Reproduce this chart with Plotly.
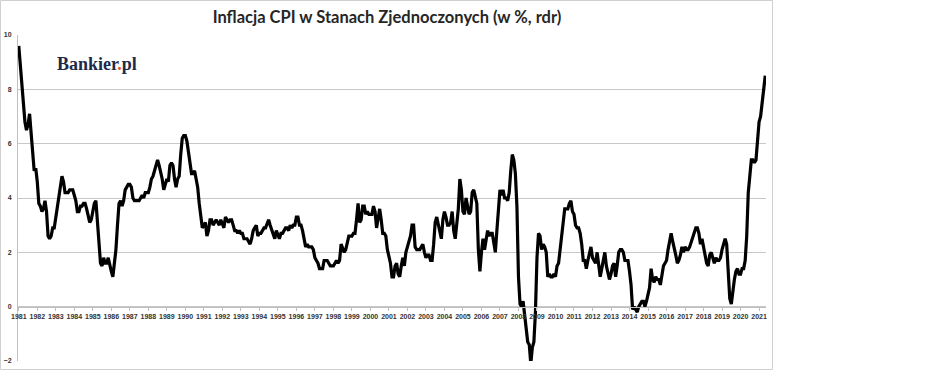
import plotly.graph_objects as go

# Monthly CPI y/y (%) from Nov 1981 to Mar 2022
cpi_1981 = [9.6, 8.9]
cpi_yearly = {
    1982: [8.4, 7.6, 6.8, 6.5, 6.7, 7.1, 6.4, 5.9, 5.0, 5.1, 4.6, 3.8],
    1983: [3.7, 3.5, 3.6, 3.9, 3.5, 2.6, 2.5, 2.6, 2.9, 2.9, 3.3, 3.8],
    1984: [4.2, 4.6, 4.8, 4.6, 4.2, 4.2, 4.2, 4.3, 4.3, 4.3, 4.1, 3.9],
    1985: [3.5, 3.5, 3.7, 3.7, 3.8, 3.8, 3.6, 3.3, 3.1, 3.2, 3.5, 3.8],
    1986: [3.9, 3.1, 2.2, 1.6, 1.5, 1.8, 1.6, 1.6, 1.8, 1.5, 1.3, 1.1],
    1987: [1.5, 2.1, 3.0, 3.8, 3.9, 3.7, 3.9, 4.3, 4.4, 4.5, 4.5, 4.4],
    1988: [4.0, 3.9, 3.9, 3.9, 3.9, 4.0, 4.1, 4.0, 4.2, 4.2, 4.2, 4.4],
    1989: [4.7, 4.8, 5.0, 5.1, 5.4, 5.2, 5.0, 4.7, 4.3, 4.5, 4.7, 4.6],
    1990: [5.2, 5.3, 5.2, 4.7, 4.4, 4.7, 4.8, 5.6, 6.2, 6.3, 6.3, 6.1],
    1991: [5.7, 5.3, 4.9, 4.9, 5.0, 4.7, 4.4, 3.8, 3.4, 2.9, 3.0, 3.1],
    1992: [2.6, 2.8, 3.2, 3.2, 3.0, 3.1, 3.2, 3.1, 3.0, 3.2, 3.0, 2.9],
    1993: [3.3, 3.2, 3.1, 3.2, 3.2, 3.0, 2.8, 2.8, 2.7, 2.8, 2.7, 2.7],
    1994: [2.5, 2.5, 2.5, 2.4, 2.3, 2.5, 2.8, 2.9, 3.0, 2.6, 2.7, 2.7],
    1995: [2.8, 2.9, 2.9, 3.1, 3.2, 3.0, 2.8, 2.6, 2.5, 2.8, 2.6, 2.5],
    1996: [2.7, 2.7, 2.8, 2.9, 2.9, 2.8, 3.0, 2.9, 3.0, 3.0, 3.3, 3.3],
    1997: [3.0, 3.0, 2.8, 2.5, 2.2, 2.3, 2.2, 2.2, 2.2, 2.1, 1.8, 1.7],
    1998: [1.6, 1.4, 1.4, 1.4, 1.7, 1.7, 1.7, 1.6, 1.5, 1.5, 1.5, 1.6],
    1999: [1.7, 1.6, 1.7, 2.3, 2.1, 2.0, 2.1, 2.3, 2.6, 2.6, 2.6, 2.7],
    2000: [2.7, 3.2, 3.8, 3.1, 3.2, 3.7, 3.7, 3.4, 3.5, 3.4, 3.4, 3.4],
    2001: [3.7, 3.5, 2.9, 3.3, 3.6, 3.2, 2.7, 2.7, 2.6, 2.1, 1.9, 1.6],
    2002: [1.1, 1.1, 1.5, 1.6, 1.2, 1.1, 1.5, 1.8, 1.5, 2.0, 2.2, 2.4],
    2003: [2.6, 3.0, 3.0, 2.2, 2.1, 2.1, 2.1, 2.2, 2.3, 2.0, 1.8, 1.9],
    2004: [1.9, 1.7, 1.7, 2.3, 3.1, 3.3, 3.0, 2.7, 2.5, 3.2, 3.5, 3.3],
    2005: [3.0, 3.0, 3.1, 3.5, 2.8, 2.5, 3.2, 3.6, 4.7, 4.3, 3.5, 3.4],
    2006: [4.0, 3.6, 3.4, 3.5, 4.2, 4.3, 4.1, 3.8, 2.1, 1.3, 2.0, 2.5],
    2007: [2.1, 2.4, 2.8, 2.6, 2.7, 2.7, 2.4, 2.0, 2.8, 3.5, 4.3, 4.1],
    2008: [4.3, 4.0, 4.0, 3.9, 4.2, 5.0, 5.6, 5.4, 4.9, 3.7, 1.1, 0.1],
    2009: [0.0, 0.2, -0.4, -0.7, -1.3, -1.4, -2.1, -1.5, -1.3, -0.2, 1.8, 2.7],
    2010: [2.6, 2.1, 2.3, 2.2, 2.0, 1.1, 1.2, 1.1, 1.1, 1.2, 1.1, 1.5],
    2011: [1.6, 2.1, 2.7, 3.2, 3.6, 3.6, 3.6, 3.8, 3.9, 3.5, 3.4, 3.0],
    2012: [2.9, 2.9, 2.7, 2.3, 1.7, 1.7, 1.4, 1.7, 2.0, 2.2, 1.8, 1.7],
    2013: [1.6, 2.0, 1.5, 1.1, 1.4, 1.8, 2.0, 1.5, 1.2, 1.0, 1.2, 1.5],
    2014: [1.6, 1.1, 1.5, 2.0, 2.1, 2.1, 2.0, 1.7, 1.7, 1.7, 1.3, 0.8],
    2015: [-0.1, 0.0, -0.1, -0.2, 0.0, 0.1, 0.2, 0.2, 0.0, 0.2, 0.5, 0.7],
    2016: [1.4, 1.0, 0.9, 1.1, 1.0, 1.0, 0.8, 1.1, 1.5, 1.6, 1.7, 2.1],
    2017: [2.5, 2.7, 2.4, 2.2, 1.9, 1.6, 1.7, 1.9, 2.2, 2.0, 2.2, 2.1],
    2018: [2.1, 2.2, 2.4, 2.5, 2.8, 2.9, 2.9, 2.7, 2.3, 2.5, 2.2, 1.9],
    2019: [1.6, 1.5, 1.9, 2.0, 1.8, 1.6, 1.8, 1.7, 1.7, 1.8, 2.1, 2.3],
    2020: [2.5, 2.3, 1.5, 0.3, 0.1, 0.6, 1.0, 1.3, 1.4, 1.2, 1.2, 1.4],
    2021: [1.4, 1.7, 2.6, 4.2, 5.0, 5.4, 5.4, 5.3, 5.4, 6.2, 6.8, 7.0],
}
cpi_2022 = [7.5, 7.9, 8.5]

values = list(cpi_1981)
for yr in sorted(cpi_yearly):
    values += cpi_yearly[yr]
values += cpi_2022

# category positions (one per month), labelled every 12 months like the original
positions = list(range(len(values)))
tick_labels = [str(y) for y in range(1981, 2022)]
tick_positions = [12 * i for i in range(len(tick_labels))]
y_ticks = [-2, 0, 2, 4, 6, 8, 10]

fig = go.Figure()
fig.add_trace(go.Scatter(
    x=positions, y=values, mode="lines",
    line=dict(color="black", width=3.2),
    hoverinfo="y", showlegend=False,
))

L, R, T, B = 18, 182, 35, 12
W, H = 948, 373
pw, ph = W - L - R, H - T - B

def px_x(p):
    return (p - L) / pw

def px_y(p):
    return (H - B - p) / ph

fig.update_layout(
    width=W, height=H,
    margin=dict(l=L, r=R, t=T, b=B, autoexpand=False),
    paper_bgcolor="white", plot_bgcolor="white",
    title=dict(
        text="Inflacja CPI w Stanach Zjednoczonych (w %, rdr)",
        x=387 / W, xanchor="center", y=1 - 17 / H, yanchor="middle",
        font=dict(family="Lato, Open Sans, sans-serif", size=16.5, color="#262626", weight="bold"),
    ),
    xaxis=dict(
        range=[-0.5, len(values) - 0.5],
        tickmode="array", tickvals=tick_positions, ticktext=tick_labels,
        showgrid=False, zeroline=False, automargin=False,
        showline=True, linecolor="#bfbfbf", linewidth=1,
        ticks="outside", ticklen=3, tickcolor="#bfbfbf",
        anchor="free", position=2 / 12,
        tickfont=dict(family="Liberation Sans, Arial, sans-serif", size=7, color="#333333", weight="bold"),
        tickangle=0,
    ),
    yaxis=dict(
        range=[-2, 10],
        tickmode="array", tickvals=y_ticks,
        showgrid=True, gridcolor="#c8c8c8", gridwidth=1,
        zeroline=False, automargin=False,
        showline=True, linecolor="#bfbfbf", linewidth=1,
        ticks="", ticklabelstandoff=4,
        tickfont=dict(family="Liberation Sans, Arial, sans-serif", size=7, color="#333333", weight="bold"),
    ),
    shapes=[
        dict(type="rect", xref="paper", yref="paper",
             x0=px_x(0.5), x1=px_x(772.5), y0=px_y(369.5), y1=px_y(0.5),
             line=dict(color="#d0d0d0", width=1), fillcolor="rgba(0,0,0,0)", layer="below"),
    ],
    annotations=[
        dict(text="Bankier<span style='color:#e8501e'>.</span>pl",
             xref="paper", yref="paper", x=px_x(55), y=px_y(64),
             xanchor="left", yanchor="middle", showarrow=False,
             font=dict(family="Liberation Serif, DejaVu Serif, serif", size=18, color="#1c2a4a", weight="bold")),
    ],
)

fig.write_html(
    "out.html",
    config={"displayModeBar": False},
    post_script="document.body.style.margin='0';document.body.style.overflow='hidden';",
)
